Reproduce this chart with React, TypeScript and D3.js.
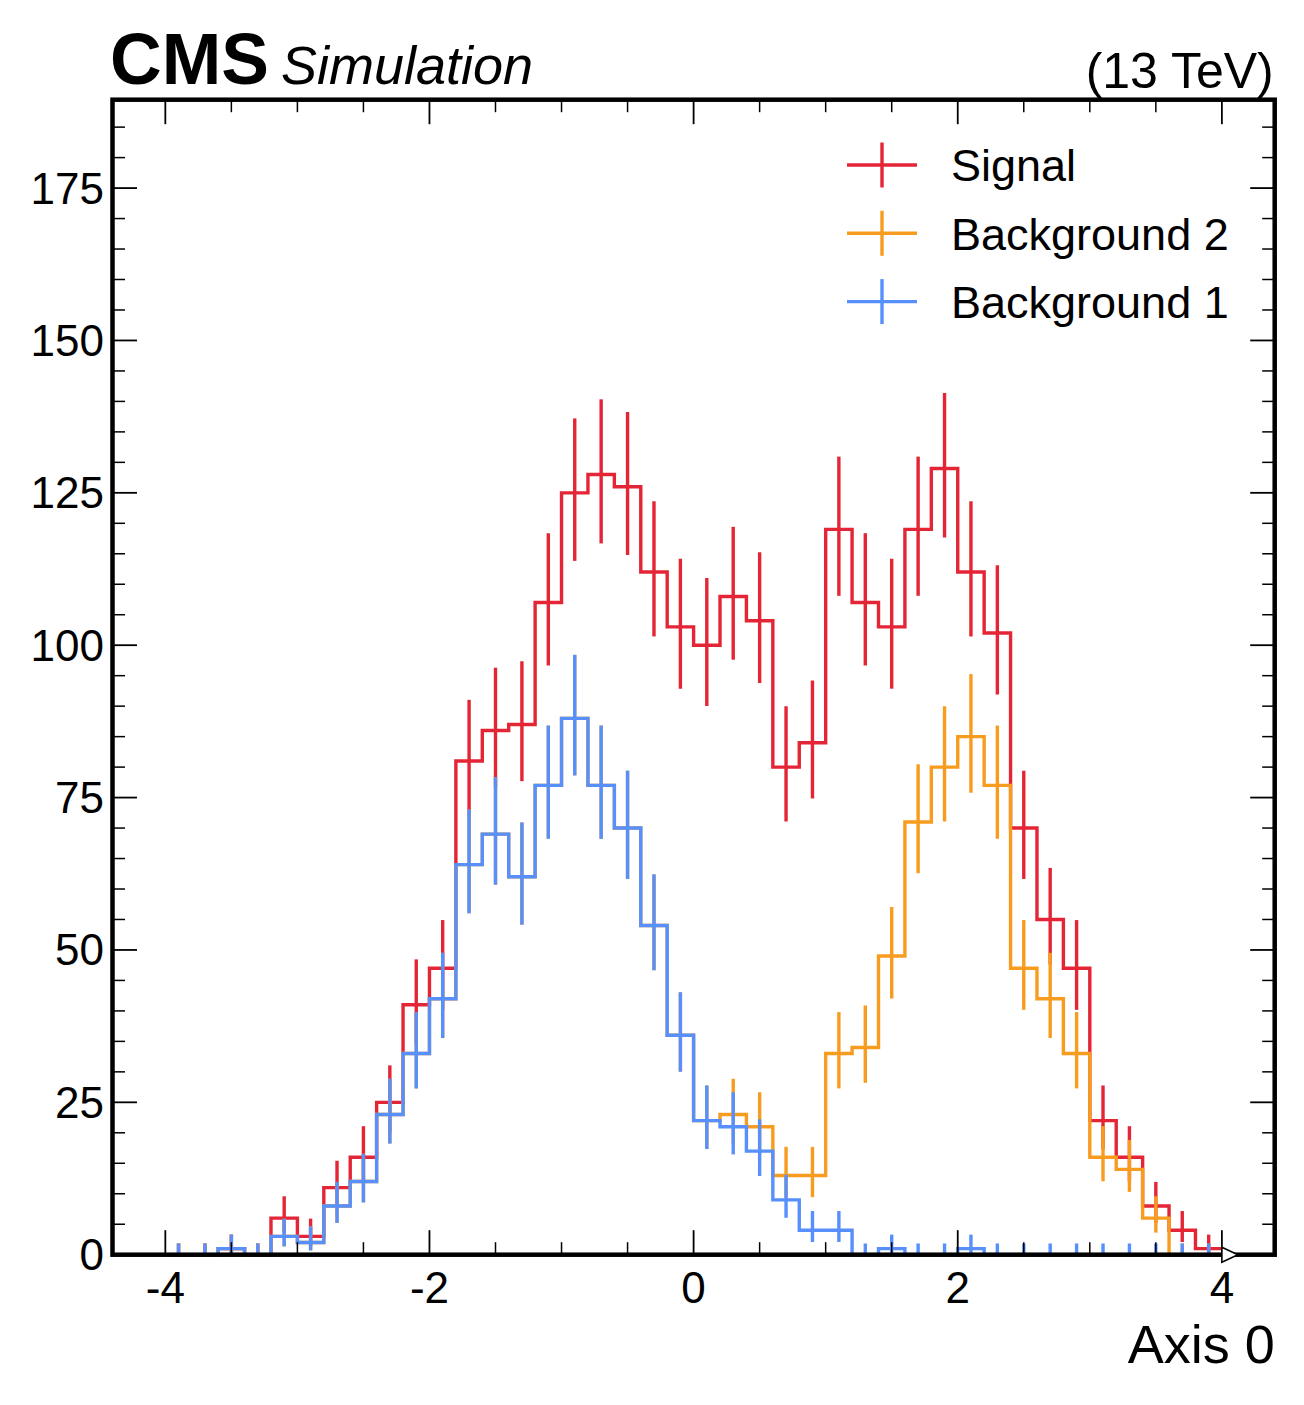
import React, { useEffect, useRef } from 'react';
import * as d3 from 'd3';

// histogram binning: 40 bins from -4 to 4
const binLow = -4;
const binHigh = 4;
const nBins = 40;

// per-sample bin contents (stack order: Background 1, Background 2, Signal)
const background1 = [0, 0, 1, 0, 3, 2, 8, 12, 23, 33, 42, 64, 69, 62, 77, 88, 77, 70, 54, 36,
  22, 21, 17, 9, 4, 4, 0, 1, 0, 0, 1, 0, 0, 0, 0, 0, 0, 0, 0, 0];
const background2 = [0, 0, 0, 0, 0, 0, 0, 0, 0, 0, 0, 0, 0, 0, 0, 0, 0, 0, 0, 0,
  0, 2, 4, 4, 9, 29, 34, 48, 71, 80, 84, 77, 47, 42, 33, 16, 14, 6, 0, 0];
const signal = [0, 0, 0, 0, 3, 1, 3, 4, 2, 8, 5, 17, 17, 25, 30, 37, 51, 56, 58, 67,
  78, 85, 83, 67, 71, 86, 73, 54, 48, 49, 27, 25, 23, 13, 14, 6, 2, 2, 4, 1];

const sampleNames = ['Background 1', 'Background 2', 'Signal'];
const sampleColors = ['#5790fc', '#f89c20', '#e42536'];

const yTicks = [0, 25, 50, 75, 100, 125, 150, 175];
const xTicks = [-4, -2, 0, 2, 4];

const FONT = '"Liberation Sans", Arial, Helvetica, sans-serif';
const ALPHA = (1 - 0.682689) / 2;

function poissonCdf(k: number, mu: number) {
  if (k < 0) return 0;
  let term = Math.exp(-mu);
  let sum = term;
  for (let i = 1; i <= k; i++) {
    term *= mu / i;
    sum += term;
  }
  return sum;
}

// Garwood interval, same as mplhep's poisson_interval for unweighted counts
function poissonInterval(n: number): [number, number] {
  let lo = 0;
  if (n > 0) {
    let a = 0, b = n;
    for (let i = 0; i < 60; i++) {
      const m = (a + b) / 2;
      if (poissonCdf(n - 1, m) > 1 - ALPHA) a = m; else b = m;
    }
    lo = (a + b) / 2;
  }
  let a = n, b = n + 10 * Math.sqrt(n + 1) + 10;
  for (let i = 0; i < 60; i++) {
    const m = (a + b) / 2;
    if (poissonCdf(n, m) > ALPHA) a = m; else b = m;
  }
  return [lo, (a + b) / 2];
}

export default function App() {
  const svgRef = useRef<SVGSVGElement>(null);

  useEffect(() => {
    if (!svgRef.current) return;
    const svg = d3.select(svgRef.current);
    svg.selectAll('*').remove();

    const left = 112.5, right = 1274.7, top = 99.7, bottom = 1254.7;
    const x = d3.scaleLinear().domain([-4.4, 4.4]).range([left, right]);
    const y = d3.scaleLinear().domain([0, 189.5]).range([bottom, top]);

    const width = (binHigh - binLow) / nBins;
    const edges = d3.range(nBins + 1).map((i) => binLow + i * width);
    const centers = d3.range(nBins).map((i) => binLow + (i + 0.5) * width);

    // cumulative stack
    const samples = [background1, background2, signal];
    const stacked: number[][] = [];
    samples.forEach((s, k) => {
      stacked.push(s.map((v, i) => v + (k > 0 ? stacked[k - 1][i] : 0)));
    });

    const step = d3.line<[number, number]>()
      .x((d) => x(d[0]))
      .y((d) => y(d[1]))
      .curve(d3.curveStepAfter);

    const lw = 3.4;
    const g = svg.append('g');

    // draw Signal first, Background 1 last (on top)
    for (let k = stacked.length - 1; k >= 0; k--) {
      const vals = stacked[k];
      const pts: [number, number][] = vals.map((v, i) => [edges[i], v]);
      pts.push([edges[nBins], vals[nBins - 1]]);
      g.append('path')
        .attr('d', step(pts))
        .attr('fill', 'none')
        .attr('stroke', sampleColors[k])
        .attr('stroke-width', lw);

      vals.forEach((v, i) => {
        const [lo, hi] = poissonInterval(v);
        g.append('line')
          .attr('x1', x(centers[i]))
          .attr('x2', x(centers[i]))
          .attr('y1', y(lo))
          .attr('y2', y(hi))
          .attr('stroke', sampleColors[k])
          .attr('stroke-width', lw);
      });
    }

    // frame
    svg.append('rect')
      .attr('x', left).attr('y', top)
      .attr('width', right - left).attr('height', bottom - top)
      .attr('fill', 'none').attr('stroke', '#000').attr('stroke-width', 4.5);

    // ticks (inward, all four sides)
    const ticks = svg.append('g').attr('stroke', '#000');
    const xMinor = d3.range(-8, 9).map((i) => i * 0.5).filter((v) => v >= -4.4 && v <= 4.4);
    const yMinor = d3.range(0, 190, 5);
    xMinor.forEach((v) => {
      const major = xTicks.includes(v);
      const len = major ? 24.5 : 12.5;
      ticks.append('line').attr('x1', x(v)).attr('x2', x(v)).attr('y1', bottom).attr('y2', bottom - len)
        .attr('stroke-width', major ? 1.8 : 1.5);
      ticks.append('line').attr('x1', x(v)).attr('x2', x(v)).attr('y1', top).attr('y2', top + len)
        .attr('stroke-width', major ? 1.8 : 1.5);
    });
    yMinor.forEach((v) => {
      const major = yTicks.includes(v);
      const len = major ? 24.5 : 12.5;
      ticks.append('line').attr('x1', left).attr('x2', left + len).attr('y1', y(v)).attr('y2', y(v))
        .attr('stroke-width', major ? 1.8 : 1.5);
      ticks.append('line').attr('x1', right).attr('x2', right - len).attr('y1', y(v)).attr('y2', y(v))
        .attr('stroke-width', major ? 1.8 : 1.5);
    });

    // flow marker at the upper edge
    const ax = x(binHigh);
    const ay = y(0);
    svg.append('path')
      .attr('d', `M${ax},${ay - 7.5}L${ax + 16},${ay}L${ax},${ay + 7.5}Z`)
      .attr('fill', '#fff').attr('stroke', '#000').attr('stroke-width', 1.6);

    // tick labels
    const labels = svg.append('g').attr('font-family', FONT).attr('fill', '#000');
    yTicks.forEach((v) => {
      labels.append('text').attr('x', 104).attr('y', y(v) + 15.5)
        .attr('text-anchor', 'end').attr('font-size', 44).text(String(v));
    });
    xTicks.forEach((v) => {
      labels.append('text').attr('x', x(v)).attr('y', 1303)
        .attr('text-anchor', 'middle').attr('font-size', 44).text(v < 0 ? `-${-v}` : String(v));
    });

    labels.append('text').attr('x', right).attr('y', 1363)
      .attr('text-anchor', 'end').attr('font-size', 54).text('Axis 0');

    labels.append('text').attr('x', 110).attr('y', 84)
      .attr('font-size', 71.5).attr('font-weight', 'bold').text('CMS');
    labels.append('text').attr('x', 281).attr('y', 84)
      .attr('font-size', 54).attr('font-style', 'italic').text('Simulation');
    labels.append('text').attr('x', right - 1).attr('y', 88)
      .attr('text-anchor', 'end').attr('font-size', 50).text('(13 TeV)');

    // legend
    const legendOrder = [2, 1, 0];
    legendOrder.forEach((k, row) => {
      const ly = 165 + row * 68.3;
      const lg = svg.append('g');
      lg.append('line').attr('x1', 847).attr('x2', 917).attr('y1', ly).attr('y2', ly)
        .attr('stroke', sampleColors[k]).attr('stroke-width', lw);
      lg.append('line').attr('x1', 882).attr('x2', 882).attr('y1', ly - 22.5).attr('y2', ly + 22.5)
        .attr('stroke', sampleColors[k]).attr('stroke-width', lw);
      lg.append('text').attr('x', 951).attr('y', ly + 16.3)
        .attr('font-family', FONT).attr('font-size', 45).text(sampleNames[k]);
    });
  }, []);

  return (
    <svg
      ref={svgRef}
      width={1304}
      height={1405}
      style={{ position: 'absolute', left: 0, top: 0, background: '#fff' }}
    />
  );
}
